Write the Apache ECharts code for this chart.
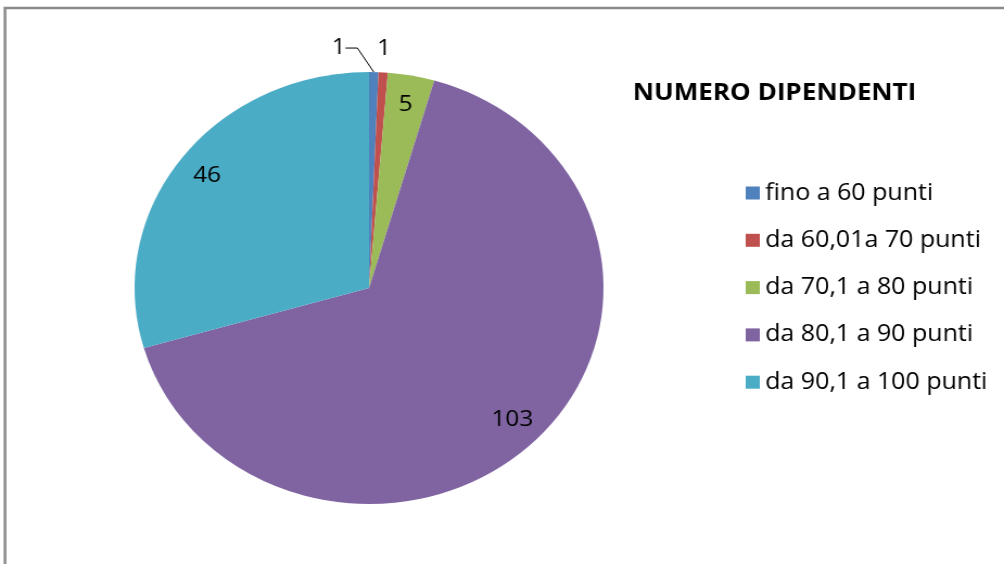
<!DOCTYPE html>
<html><head><meta charset="utf-8">
<script src="https://cdn.jsdelivr.net/npm/echarts@6/dist/echarts.min.js"></script>
<style>
html,body{margin:0;padding:0;background:#fff;overflow:hidden}
#wrap{width:1004px;height:564px;overflow:hidden;position:relative}
#c{width:925px;height:564px;transform:scaleX(1.0854);transform-origin:0 0}
</style></head>
<body><div id="wrap"><div id="c"></div></div>
<script>
const chartTitle = 'NUMERO DIPENDENTI';
const categories = ['fino a 60 punti', 'da 60,01a 70 punti', 'da 70,1 a 80 punti', 'da 80,1 a 90 punti', 'da 90,1 a 100 punti'];
const values = [1, 1, 5, 103, 46];
const colors = ['#4F81BD', '#C0504D', '#9BBB59', '#8064A2', '#4BACC6'];

const FONT = '"Open Sans", "Noto Sans", sans-serif';
const R = 216;
const center = [340, 288];

const mainData = categories.map((name, i) => {
  const item = { name, value: values[i], itemStyle: { color: colors[i] } };
  if (i === 0) {
    item.label = { show: true, position: 'outside' };
    item.labelLine = { show: true, length: 18, length2: 11 };
  } else if (i === 1) {
    item.label = { show: true, position: 'outside', distanceToLabelLine: -7 };
    item.labelLine = { show: false, length: 24, length2: 0 };
  } else {
    item.label = { show: false };
    item.labelLine = { show: false };
  }
  return item;
});

const helperData = categories.map((name, i) => ({
  name, value: values[i],
  itemStyle: { color: 'rgba(0,0,0,0)' },
  label: { show: i >= 2 }
}));

const chart = echarts.init(document.getElementById('c'), null, { renderer: 'canvas' });
chart.setOption({
  animation: false,
  backgroundColor: '#fff',
  title: {
    text: chartTitle, left: 578, top: 76,
    textStyle: { fontFamily: FONT, fontSize: 24, fontWeight: 'bold', color: '#000' }
  },
  legend: {
    orient: 'vertical', left: 682, top: 176,
    itemWidth: 13, itemHeight: 13, itemGap: 23.3,
    icon: 'rect',
    selectedMode: false,
    data: categories,
    textStyle: { fontFamily: FONT, fontSize: 23, color: '#000', lineHeight: 24 }
  },
  graphic: [{
    type: 'rect', silent: true, z: -1,
    shape: { x: 4.6, y: 8, width: 1200, height: 1000 },
    style: { fill: 'none', stroke: '#8a8a8a', lineWidth: 2.5 }
  }],
  series: [{
    type: 'pie', name: chartTitle,
    center, radius: R,
    startAngle: 90, clockwise: true,
    avoidLabelOverlap: false,
    silent: true,
    emphasis: { disabled: true },
    itemStyle: { borderWidth: 0 },
    label: { fontFamily: FONT, fontSize: 22, color: '#000', formatter: '{c}' },
    labelLine: { lineStyle: { color: '#000', width: 1 } },
    labelLayout: (p) => p.dataIndex === 0
      ? { x: p.labelRect.x - 55, y: p.labelRect.y + p.labelRect.height / 2 - 6 }
      : {},
    data: mainData
  }, {
    type: 'pie', name: 'labels',
    center, radius: [R * 0.7, R],
    startAngle: 90, clockwise: true,
    silent: true,
    emphasis: { disabled: true },
    itemStyle: { borderWidth: 0 },
    label: { position: 'inside', fontFamily: FONT, fontSize: 22.5, color: '#000', formatter: '{c}' },
    labelLine: { show: false },
    data: helperData
  }]
});
</script>
</body></html>
